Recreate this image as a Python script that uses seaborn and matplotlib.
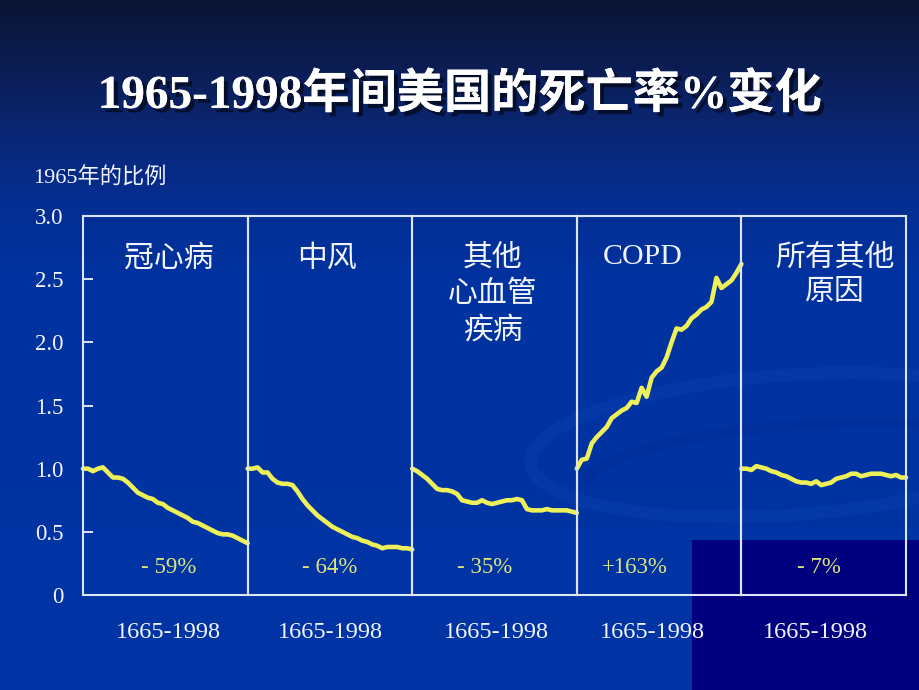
import numpy as np
import pandas as pd
import matplotlib
matplotlib.use("Agg")
import matplotlib.pyplot as plt
import matplotlib.patheffects as pe
from matplotlib.patches import Rectangle, Arc
import seaborn as sns

# ---------------- data ----------------
years = list(range(1965, 1999))
chd = [1.00, 1.00, 0.98, 1.00, 1.01, 0.97, 0.93, 0.93, 0.92, 0.89, 0.85, 0.81,
       0.79, 0.77, 0.76, 0.73, 0.72, 0.69, 0.67, 0.65, 0.63, 0.61, 0.58, 0.57,
       0.55, 0.53, 0.51, 0.49, 0.48, 0.48, 0.47, 0.45, 0.43, 0.41]
stroke = [1.00, 1.00, 1.01, 0.97, 0.97, 0.92, 0.89, 0.88, 0.88, 0.87, 0.82, 0.76,
          0.71, 0.67, 0.63, 0.60, 0.57, 0.54, 0.52, 0.50, 0.48, 0.46, 0.45, 0.43,
          0.42, 0.40, 0.39, 0.37, 0.38, 0.38, 0.38, 0.37, 0.37, 0.36]
other_cvd = [1.00, 0.98, 0.95, 0.92, 0.88, 0.84, 0.83, 0.83, 0.82, 0.80, 0.75, 0.74,
             0.73, 0.73, 0.75, 0.73, 0.72, 0.73, 0.74, 0.75, 0.75, 0.76, 0.75, 0.68,
             0.67, 0.67, 0.67, 0.68, 0.67, 0.67, 0.67, 0.67, 0.66, 0.65]
copd = [1.00, 1.07, 1.08, 1.20, 1.25, 1.29, 1.33, 1.40, 1.43, 1.46, 1.48, 1.53,
        1.52, 1.64, 1.57, 1.72, 1.77, 1.80, 1.88, 2.00, 2.11, 2.10, 2.13, 2.19,
        2.22, 2.26, 2.28, 2.32, 2.51, 2.43, 2.46, 2.49, 2.55, 2.62]
all_other = [1.00, 1.00, 0.99, 1.02, 1.01, 1.00, 0.98, 0.97, 0.95, 0.94, 0.92, 0.90,
             0.89, 0.89, 0.88, 0.90, 0.87, 0.88, 0.89, 0.92, 0.93, 0.94, 0.96, 0.96,
             0.94, 0.95, 0.96, 0.96, 0.96, 0.95, 0.94, 0.95, 0.93, 0.93]

series = [chd, stroke, other_cvd, copd, all_other]
panel_titles = ["冠心病", "中风", "其他\n心血管\n疾病", "COPD", "所有其他\n原因"]
pct_labels = ["- 59%", "- 64%", "- 35%", "+163%", "- 7%"]
period_label = "1665-1998"
y_ticks = [0, 0.5, 1.0, 1.5, 2.0, 2.5, 3.0]
y_tick_labels = ["0", "0.5", "1.0", "1.5", "2.0", "2.5", "3.0"]
title = "1965-1998年间美国的死亡率%变化"
y_label = "1965年的比例"

# ---------------- style ----------------
sns.set_style("white")
plt.rcParams["font.family"] = ["Liberation Serif", "Noto Sans CJK SC", "DejaVu Sans"]
plt.rcParams["axes.unicode_minus"] = False

W, H = 920, 690
fig = plt.figure(figsize=(W / 100, H / 100), dpi=100)

# background gradient (axes with y growing downwards, in pixel units)
bg = fig.add_axes([0, 0, 1, 1], zorder=-10)
stops_y = np.array([0, 60, 130, 200, 280, 690])
stops_c = np.array([[10, 20, 52], [12, 28, 80], [10, 38, 115], [4, 46, 145],
                    [0, 50, 160], [0, 52, 165]]) / 255.0
yy = np.linspace(0, H, 400)
grad = np.stack([np.interp(yy, stops_y, stops_c[:, k]) for k in range(3)], axis=-1)
grad = np.repeat(grad[:, None, :], 4, axis=1)
bg.imshow(grad, aspect="auto", extent=[0, W, H, 0], origin="upper")
# faint decorative swirl
bg.add_patch(Arc((790, 445), 520, 140, angle=-4, theta1=0, theta2=360,
                 color="#1f4fbf", lw=9, alpha=0.18, zorder=1))
bg.add_patch(Arc((800, 470), 430, 90, angle=-4, theta1=180, theta2=360,
                 color="#002a90", lw=7, alpha=0.3, zorder=1))
bg.add_patch(Rectangle((692, 540), W - 692, H - 540,
                       facecolor="#00007e", edgecolor="none", zorder=2))
bg.set_xlim(0, W)
bg.set_ylim(H, 0)
bg.axis("off")

left, right = 83 / W, 906 / W
bottom, top = 1 - 595 / H, 1 - 216 / H
pw = (right - left) / 5

border = "#dde4f4"
yellow = "#eef05a"
pct_color = "#dfe57e"
txt = "#f2f5ff"

title_x = [0.52, 0.48, 0.49, 0.40, 0.57]
pct_x = [0.52, 0.50, 0.44, 0.35, 0.47]
per_x = [0.52, 0.50, 0.51, 0.46, 0.45]

for i, vals in enumerate(series):
    ax = fig.add_axes([left + i * pw, bottom, pw, top - bottom])
    ax.set_facecolor("none")
    df = pd.DataFrame({"year": years, "ratio": vals})
    sns.lineplot(data=df, x="year", y="ratio", ax=ax, color=yellow,
                 linewidth=3.3, clip_on=False, solid_capstyle="round")
    ax.set_xlim(1965, 1998)
    ax.set_ylim(0, 3.0)
    ax.set_xlabel("")
    ax.set_ylabel("")
    ax.set_xticks([])
    for s in ax.spines.values():
        s.set_visible(True)
        s.set_color(border)
        s.set_linewidth(1.5)
    if i == 0:
        ax.set_yticks(y_ticks)
        ax.set_yticklabels(y_tick_labels)
        ax.tick_params(axis="y", direction="in", length=7, width=1.4,
                       color=border, labelcolor=txt, labelsize=16.5, pad=14, left=True)
    else:
        ax.set_yticks([])
    ax.text(title_x[i], 2.775 / 3.0, panel_titles[i], transform=ax.transAxes,
            ha="center", va="top", fontsize=21.5, color=txt, linespacing=1.42)
    ax.text(pct_x[i], 0.072, pct_labels[i], transform=ax.transAxes,
            ha="center", va="center", fontsize=16.5, color=pct_color)
    ax.text(per_x[i], -0.10, period_label, transform=ax.transAxes,
            ha="center", va="center", fontsize=17.5, color=txt)

fig.text(33 / W, 1 - 178 / H, y_label, ha="left", va="center",
         fontsize=16, color=txt)

t = fig.text(0.5, 1 - 95 / H, title, ha="center", va="center",
             fontsize=34, fontweight="bold", color="#ffffff")
t.set_path_effects([pe.withSimplePatchShadow(offset=(3, -3), shadow_rgbFace="#000000",
                                             alpha=0.55), pe.Normal()])

fig.savefig("out.png", dpi=100)
